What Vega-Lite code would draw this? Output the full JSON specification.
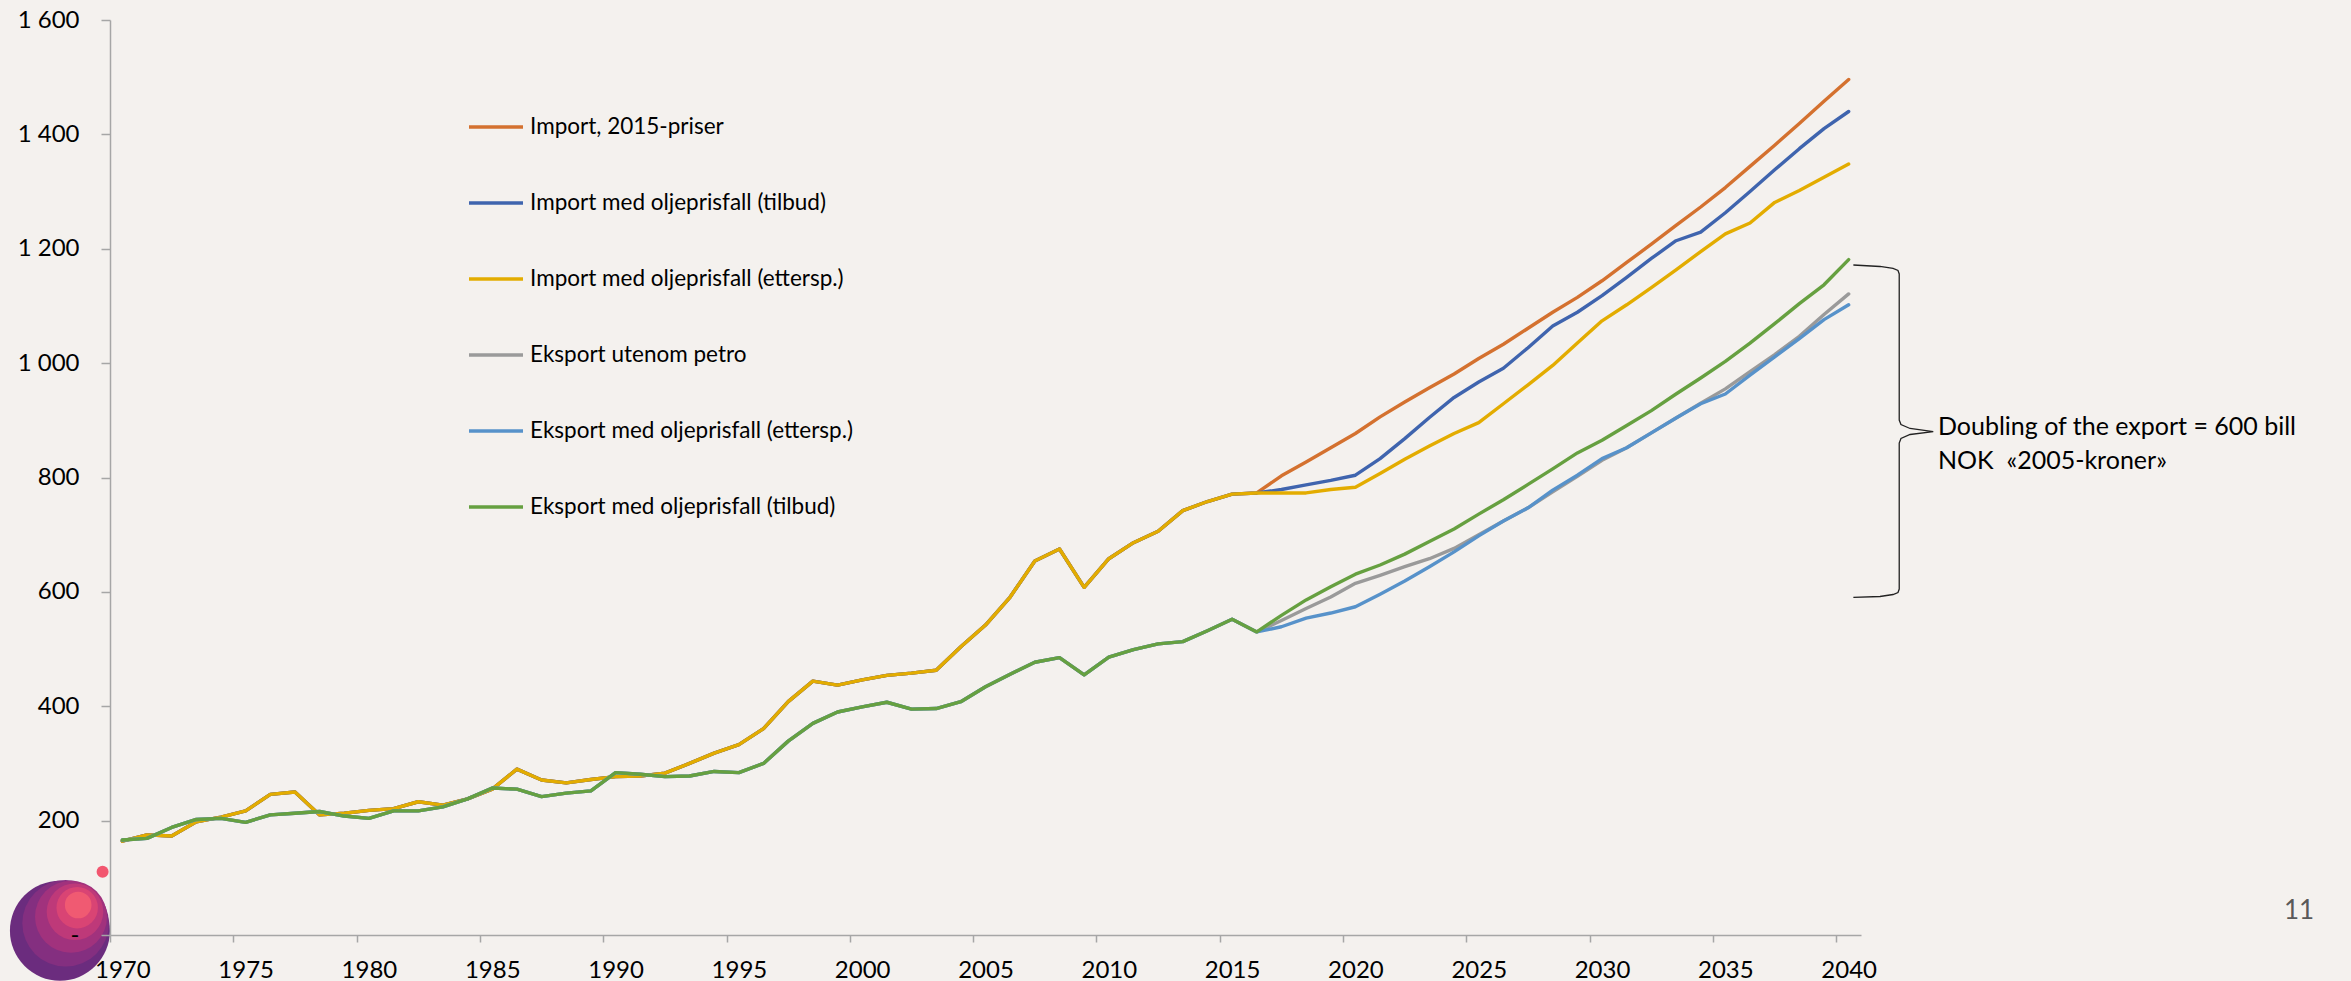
{
  "$schema": "https://vega.github.io/schema/vega-lite/v6.json",
  "width": 1751,
  "height": 915,
  "autosize": {"type": "none"},
  "padding": {"left": 110, "top": 20, "right": 490, "bottom": 46},
  "background": "#F4F1EE",
  "config": {
    "view": {"stroke": null},
    "font": "Lato",
    "axis": {"domainColor": "#A6A6A6", "domainWidth": 1.5, "tickColor": "#A6A6A6", "tickWidth": 1.5, "grid": false, "labelFont": "Lato", "labelFontSize": 24, "labelColor": "#000000"}
  },
  "datasets": {
    "wide": [
      {"year":1970,"imp":164,"impT":164,"impE":164,"eks":166,"eksE":166,"eksT":166},
      {"year":1971,"imp":175,"impT":175,"impE":175,"eks":169,"eksE":169,"eksT":169},
      {"year":1972,"imp":173,"impT":173,"impE":173,"eks":188,"eksE":188,"eksT":188},
      {"year":1973,"imp":198,"impT":198,"impE":198,"eks":202,"eksE":202,"eksT":202},
      {"year":1974,"imp":206,"impT":206,"impE":206,"eks":204,"eksE":204,"eksT":204},
      {"year":1975,"imp":217,"impT":217,"impE":217,"eks":197,"eksE":197,"eksT":197},
      {"year":1976,"imp":246,"impT":246,"impE":246,"eks":210,"eksE":210,"eksT":210},
      {"year":1977,"imp":250,"impT":250,"impE":250,"eks":213,"eksE":213,"eksT":213},
      {"year":1978,"imp":210,"impT":210,"impE":210,"eks":216,"eksE":216,"eksT":216},
      {"year":1979,"imp":213,"impT":213,"impE":213,"eks":208,"eksE":208,"eksT":208},
      {"year":1980,"imp":218,"impT":218,"impE":218,"eks":204,"eksE":204,"eksT":204},
      {"year":1981,"imp":221,"impT":221,"impE":221,"eks":217,"eksE":217,"eksT":217},
      {"year":1982,"imp":233,"impT":233,"impE":233,"eks":217,"eksE":217,"eksT":217},
      {"year":1983,"imp":227,"impT":227,"impE":227,"eks":224,"eksE":224,"eksT":224},
      {"year":1984,"imp":238,"impT":238,"impE":238,"eks":238,"eksE":238,"eksT":238},
      {"year":1985,"imp":255,"impT":255,"impE":255,"eks":257,"eksE":257,"eksT":257},
      {"year":1986,"imp":290,"impT":290,"impE":290,"eks":255,"eksE":255,"eksT":255},
      {"year":1987,"imp":271,"impT":271,"impE":271,"eks":242,"eksE":242,"eksT":242},
      {"year":1988,"imp":266,"impT":266,"impE":266,"eks":248,"eksE":248,"eksT":248},
      {"year":1989,"imp":272,"impT":272,"impE":272,"eks":252,"eksE":252,"eksT":252},
      {"year":1990,"imp":277,"impT":277,"impE":277,"eks":284,"eksE":284,"eksT":284},
      {"year":1991,"imp":278,"impT":278,"impE":278,"eks":281,"eksE":281,"eksT":281},
      {"year":1992,"imp":283,"impT":283,"impE":283,"eks":277,"eksE":277,"eksT":277},
      {"year":1993,"imp":300,"impT":300,"impE":300,"eks":278,"eksE":278,"eksT":278},
      {"year":1994,"imp":318,"impT":318,"impE":318,"eks":286,"eksE":286,"eksT":286},
      {"year":1995,"imp":333,"impT":333,"impE":333,"eks":284,"eksE":284,"eksT":284},
      {"year":1996,"imp":361,"impT":361,"impE":361,"eks":300,"eksE":300,"eksT":300},
      {"year":1997,"imp":408,"impT":408,"impE":408,"eks":339,"eksE":339,"eksT":339},
      {"year":1998,"imp":444,"impT":444,"impE":444,"eks":370,"eksE":370,"eksT":370},
      {"year":1999,"imp":437,"impT":437,"impE":437,"eks":390,"eksE":390,"eksT":390},
      {"year":2000,"imp":446,"impT":446,"impE":446,"eks":399,"eksE":399,"eksT":399},
      {"year":2001,"imp":454,"impT":454,"impE":454,"eks":407,"eksE":407,"eksT":407},
      {"year":2002,"imp":458,"impT":458,"impE":458,"eks":395,"eksE":395,"eksT":395},
      {"year":2003,"imp":463,"impT":463,"impE":463,"eks":396,"eksE":396,"eksT":396},
      {"year":2004,"imp":504,"impT":504,"impE":504,"eks":408,"eksE":408,"eksT":408},
      {"year":2005,"imp":542,"impT":542,"impE":542,"eks":434,"eksE":434,"eksT":434},
      {"year":2006,"imp":591,"impT":591,"impE":591,"eks":456,"eksE":456,"eksT":456},
      {"year":2007,"imp":654,"impT":654,"impE":654,"eks":477,"eksE":477,"eksT":477},
      {"year":2008,"imp":675,"impT":675,"impE":675,"eks":485,"eksE":485,"eksT":485},
      {"year":2009,"imp":608,"impT":608,"impE":608,"eks":455,"eksE":455,"eksT":455},
      {"year":2010,"imp":658,"impT":658,"impE":658,"eks":486,"eksE":486,"eksT":486},
      {"year":2011,"imp":686,"impT":686,"impE":686,"eks":499,"eksE":499,"eksT":499},
      {"year":2012,"imp":706,"impT":706,"impE":706,"eks":509,"eksE":509,"eksT":509},
      {"year":2013,"imp":742,"impT":742,"impE":742,"eks":513,"eksE":513,"eksT":513},
      {"year":2014,"imp":758,"impT":758,"impE":758,"eks":532,"eksE":532,"eksT":532},
      {"year":2015,"imp":771,"impT":771,"impE":771,"eks":552,"eksE":552,"eksT":552},
      {"year":2016,"imp":773,"impT":773,"impE":773,"eks":530,"eksE":530,"eksT":530},
      {"year":2017,"imp":803,"impT":779,"impE":773,"eks":550,"eksE":539,"eksT":559},
      {"year":2018,"imp":827,"impT":787,"impE":773,"eks":571,"eksE":554,"eksT":586},
      {"year":2019,"imp":852,"impT":795,"impE":779,"eks":591,"eksE":563,"eksT":609},
      {"year":2020,"imp":877,"impT":804,"impE":783,"eks":615,"eksE":574,"eksT":631},
      {"year":2021,"imp":906,"impT":833,"impE":807,"eks":629,"eksE":596,"eksT":647},
      {"year":2022,"imp":932,"impT":868,"impE":832,"eks":644,"eksE":619,"eksT":666},
      {"year":2023,"imp":957,"impT":905,"impE":855,"eks":658,"eksE":644,"eksT":688},
      {"year":2024,"imp":981,"impT":940,"impE":877,"eks":676,"eksE":670,"eksT":710},
      {"year":2025,"imp":1008,"impT":967,"impE":896,"eks":700,"eksE":698,"eksT":736},
      {"year":2026,"imp":1033,"impT":991,"impE":929,"eks":724,"eksE":724,"eksT":761},
      {"year":2027,"imp":1061,"impT":1027,"impE":962,"eks":747,"eksE":747,"eksT":788},
      {"year":2028,"imp":1089,"impT":1065,"impE":996,"eks":775,"eksE":778,"eksT":815},
      {"year":2029,"imp":1115,"impT":1089,"impE":1035,"eks":802,"eksE":804,"eksT":843},
      {"year":2030,"imp":1144,"impT":1118,"impE":1074,"eks":830,"eksE":833,"eksT":865},
      {"year":2031,"imp":1176,"impT":1150,"impE":1102,"eks":852,"eksE":852,"eksT":891},
      {"year":2032,"imp":1208,"impT":1183,"impE":1132,"eks":878,"eksE":878,"eksT":917},
      {"year":2033,"imp":1241,"impT":1214,"impE":1163,"eks":904,"eksE":904,"eksT":946},
      {"year":2034,"imp":1273,"impT":1229,"impE":1195,"eks":930,"eksE":929,"eksT":974},
      {"year":2035,"imp":1307,"impT":1263,"impE":1226,"eks":955,"eksE":946,"eksT":1003},
      {"year":2036,"imp":1344,"impT":1300,"impE":1245,"eks":985,"eksE":979,"eksT":1035},
      {"year":2037,"imp":1381,"impT":1338,"impE":1281,"eks":1015,"eksE":1011,"eksT":1069},
      {"year":2038,"imp":1419,"impT":1375,"impE":1302,"eks":1047,"eksE":1043,"eksT":1104},
      {"year":2039,"imp":1458,"impT":1410,"impE":1325,"eks":1085,"eksE":1076,"eksT":1137},
      {"year":2040,"imp":1496,"impT":1440,"impE":1348,"eks":1121,"eksE":1102,"eksT":1181}
    ],
    "names": [
      {"key":"imp","name":"Import, 2015-priser"},
      {"key":"impT","name":"Import med oljeprisfall (tilbud)"},
      {"key":"impE","name":"Import med oljeprisfall (ettersp.)"},
      {"key":"eks","name":"Eksport utenom petro"},
      {"key":"eksE","name":"Eksport med oljeprisfall (ettersp.)"},
      {"key":"eksT","name":"Eksport med oljeprisfall (tilbud)"}
    ],
    "brace": [
      {"i":1,"bx":2040.19,"by":1171.6},
      {"i":2,"bx":2041.27,"by":1169},
      {"i":3,"bx":2041.8,"by":1165.5},
      {"i":4,"bx":2042.0,"by":1162},
      {"i":5,"bx":2042.05,"by":1155.9},
      {"i":6,"bx":2042.05,"by":900.5},
      {"i":7,"bx":2042.12,"by":892.7},
      {"i":8,"bx":2042.49,"by":885.7},
      {"i":9,"bx":2043.43,"by":880.1},
      {"i":10,"bx":2042.49,"by":875.2},
      {"i":11,"bx":2042.12,"by":868.2},
      {"i":12,"bx":2042.05,"by":860.3},
      {"i":13,"bx":2042.05,"by":605},
      {"i":14,"bx":2042.0,"by":598.9},
      {"i":15,"bx":2041.8,"by":595.4},
      {"i":16,"bx":2041.27,"by":591.9},
      {"i":17,"bx":2040.19,"by":590.5}
    ],
    "one": [{}]
  },
  "layer": [
    {
      "data": {"name": "one"},
      "mark": {"type": "point", "shape": "circle", "filled": true, "opacity": 1, "size": 10000, "color": "#6B2C7E", "strokeWidth": 0},
      "encoding": {
        "x": {"datum": 1967.47, "type": "quantitative", "scale": {"domain": [1969.5, 2040.5], "nice": false, "zero": false}},
        "y": {"datum": 7.5, "type": "quantitative", "scale": {"domain": [0, 1600], "nice": false}}
      }
    },
    {
      "data": {"name": "one"},
      "mark": {"type": "point", "shape": "circle", "filled": true, "opacity": 1, "size": 7500, "color": "#842F80", "strokeWidth": 0},
      "encoding": {
        "x": {"datum": 1967.7, "type": "quantitative", "scale": {"domain": [1969.5, 2040.5], "nice": false, "zero": false}},
        "y": {"datum": 20.5, "type": "quantitative", "scale": {"domain": [0, 1600], "nice": false}}
      }
    },
    {
      "data": {"name": "one"},
      "mark": {"type": "point", "shape": "circle", "filled": true, "opacity": 1, "size": 5184, "color": "#A1327D", "strokeWidth": 0},
      "encoding": {
        "x": {"datum": 1967.92, "type": "quantitative", "scale": {"domain": [1969.5, 2040.5], "nice": false, "zero": false}},
        "y": {"datum": 32, "type": "quantitative", "scale": {"domain": [0, 1600], "nice": false}}
      }
    },
    {
      "data": {"name": "one"},
      "mark": {"type": "point", "shape": "circle", "filled": true, "opacity": 1, "size": 3204, "color": "#BE3979", "strokeWidth": 0},
      "encoding": {
        "x": {"datum": 1968.08, "type": "quantitative", "scale": {"domain": [1969.5, 2040.5], "nice": false, "zero": false}},
        "y": {"datum": 40.7, "type": "quantitative", "scale": {"domain": [0, 1600], "nice": false}}
      }
    },
    {
      "data": {"name": "one"},
      "mark": {"type": "point", "shape": "circle", "filled": true, "opacity": 1, "size": 1714, "color": "#D94474", "strokeWidth": 0},
      "encoding": {
        "x": {"datum": 1968.17, "type": "quantitative", "scale": {"domain": [1969.5, 2040.5], "nice": false, "zero": false}},
        "y": {"datum": 47.7, "type": "quantitative", "scale": {"domain": [0, 1600], "nice": false}}
      }
    },
    {
      "data": {"name": "one"},
      "mark": {"type": "point", "shape": "circle", "filled": true, "opacity": 1, "size": 708, "color": "#F05A72", "strokeWidth": 0},
      "encoding": {
        "x": {"datum": 1968.21, "type": "quantitative", "scale": {"domain": [1969.5, 2040.5], "nice": false, "zero": false}},
        "y": {"datum": 52.5, "type": "quantitative", "scale": {"domain": [0, 1600], "nice": false}}
      }
    },
    {
      "data": {"name": "one"},
      "mark": {"type": "point", "shape": "circle", "filled": true, "opacity": 1, "size": 144, "color": "#F2566F", "strokeWidth": 0},
      "encoding": {
        "x": {"datum": 1969.2, "type": "quantitative", "scale": {"domain": [1969.5, 2040.5], "nice": false, "zero": false}},
        "y": {"datum": 110.7, "type": "quantitative", "scale": {"domain": [0, 1600], "nice": false}}
      }
    },
    {
      "data": {"name": "wide"},
      "transform": [
        {"fold": ["imp", "impT", "impE", "eks", "eksE", "eksT"], "as": ["key", "value"]},
        {"lookup": "key", "from": {"data": {"name": "names"}, "key": "key", "fields": ["name"]}}
      ],
      "mark": {"type": "line", "strokeWidth": 3.4, "strokeJoin": "round", "strokeCap": "round"},
      "encoding": {
        "x": {
          "field": "year", "type": "quantitative", "title": null,
          "scale": {"domain": [1969.5, 2040.5], "nice": false, "zero": false},
          "axis": {
            "values": [1969.5, 1974.5, 1979.5, 1984.5, 1989.5, 1994.5, 1999.5, 2004.5, 2009.5, 2014.5, 2019.5, 2024.5, 2029.5, 2034.5, 2039.5],
            "labelExpr": "format(datum.value + 0.5, 'd')",
            "labelOffset": 12.33, "tickSize": 7, "labelPadding": 16,
            "labelFlush": false, "labelOverlap": false, "labelAngle": 0, "title": null, "zindex": 1
          }
        },
        "y": {
          "field": "value", "type": "quantitative", "title": null,
          "scale": {"domain": [0, 1600], "nice": false},
          "axis": {
            "values": [0, 200, 400, 600, 800, 1000, 1200, 1400, 1600],
            "labelExpr": "datum.value == 0 ? '-\u2007' : replace(format(datum.value, ',d'), ',', ' ')",
            "tickSize": 9, "labelPadding": 22, "title": null, "zindex": 1
          }
        },
        "color": {
          "field": "name", "type": "nominal",
          "scale": {
            "domain": ["Import, 2015-priser", "Import med oljeprisfall (tilbud)", "Import med oljeprisfall (ettersp.)", "Eksport utenom petro", "Eksport med oljeprisfall (ettersp.)", "Eksport med oljeprisfall (tilbud)"],
            "range": ["#D4712F", "#3F64AE", "#E3AC00", "#9A9A9A", "#5792CA", "#66A040"]
          },
          "legend": {
            "orient": "none", "legendX": 357, "legendY": 78, "title": null, "direction": "vertical",
            "symbolType": "stroke", "symbolSize": 2916, "symbolStrokeWidth": 3.3,
            "labelFont": "Lato", "labelFontSize": 22.5, "labelColor": "#000000", "labelOffset": 5,
            "labelLimit": 800, "rowPadding": 35
          }
        }
      }
    },
    {
      "data": {"name": "brace"},
      "mark": {"type": "line", "color": "#222222", "strokeWidth": 1.3, "clip": false},
      "encoding": {
        "x": {"field": "bx", "type": "quantitative", "title": null, "scale": {"domain": [1969.5, 2040.5], "nice": false, "zero": false}},
        "y": {"field": "by", "type": "quantitative", "title": null, "scale": {"domain": [0, 1600], "nice": false}},
        "order": {"field": "i", "type": "quantitative"}
      }
    },
    {
      "data": {"name": "one"},
      "mark": {"type": "text", "text": ["Doubling of the export = 600 bill", "NOK\u00a0\u00a0«2005-kroner»"], "align": "left", "baseline": "alphabetic", "font": "Lato", "fontSize": 25, "lineHeight": 34, "color": "#000000"},
      "encoding": {
        "x": {"datum": 2043.62, "type": "quantitative", "scale": {"domain": [1969.5, 2040.5], "nice": false, "zero": false}},
        "y": {"datum": 874.3, "type": "quantitative", "scale": {"domain": [0, 1600], "nice": false}}
      }
    },
    {
      "data": {"name": "one"},
      "mark": {"type": "text", "text": "11", "align": "center", "baseline": "alphabetic", "font": "Lato", "fontSize": 26, "color": "#595959"},
      "encoding": {
        "x": {"datum": 2058.26, "type": "quantitative", "scale": {"domain": [1969.5, 2040.5], "nice": false, "zero": false}},
        "y": {"datum": 28, "type": "quantitative", "scale": {"domain": [0, 1600], "nice": false}}
      }
    }
  ]
}
